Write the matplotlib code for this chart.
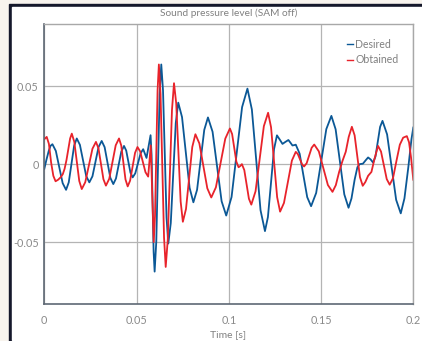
import numpy as np
import matplotlib
matplotlib.use("Agg")
from matplotlib import pyplot as plt
from matplotlib.patches import Rectangle

plt.rcParams['font.family'] = ['Lato', 'DejaVu Sans']

# time in ms, pressure in 1e-3 units
t_desired = [0, 1.2, 2.4, 3.4, 4.4,
             6.25, 8.1, 9.95, 11.8,
             13.25, 14.7, 16.15, 17.6,
             19.3, 21.0, 22.7, 24.4,
             26.1, 27.75, 29.4, 31.1,
             32.7, 34.25, 35.8, 37.4,
             38.85, 40.3, 41.75, 43.2,
             44.4, 45.55, 46.7, 47.9,
             49.3, 50.75, 52.2, 53.6,
             54.5, 55.4, 56.5, 57.6,
             58.15, 58.7, 59.25, 59.8,
             60.7, 61.6, 62.5, 63.4,
             64.35, 65.3, 66.25, 67.2,
             68.55, 69.9, 71.25, 72.6,
             74.65, 76.7, 78.75, 80.8,
             82.8, 84.75, 86.7, 88.7,
             91.2, 93.65, 96.1, 98.6,
             101.5, 104.35, 107.2, 110.1,
             112.5, 114.85, 117.2, 119.6,
             121.2, 122.85, 124.5, 126.1,
             127.6, 129.1, 130.7, 132.3, 133.4, 134.5, 135.4, 136.3,
             138.4, 140.45, 142.5, 144.6,
             147.35, 150.1, 152.85, 155.6,
             157.9, 160.25, 162.6, 164.9,
             166.5, 168.2, 169.7, 170.9, 172.7, 174.2, 175.5, 176.9, 178.2,
             179.5, 180.75, 182.0, 183.3,
             185.8, 188.25, 190.7, 193.2,
             195.2, 197.3, 199.0, 200]
desired = [-3, 3, 8.5, 11.8, 12.8,
           8.5, -1.9, -12.2, -16.5,
           -11.7, 0, 11.7, 16.5,
           12.4, 2.4, -7.6, -11.7,
           -7.8, 1.6, 11.0, 14.9,
           10.9, 1.0, -8.8, -12.8,
           -9.2, -0.5, 8.1, 11.7,
           8.7, 1.6, -5.5, -8.5,
           -5.9, 0.5, 7.0, 9.6,
           6.8, 4.0, 11.3, 18.6,
           5.8, -25.2, -56.2, -69,
           -49.6, -2.5, 44.6, 64,
           47.2, 6.5, -34.2, -51,
           -37.8, -5.8, 26.3, 39.5,
           30.2, 7.5, -15.2, -24.5,
           -16.5, 2.8, 22.0, 30,
           20.8, -1.5, -23.8, -33,
           -21.1, 7.8, 36.6, 48.5,
           35.1, 2.8, -29.6, -43,
           -34, -12.3, 9.5, 18.5,
           15.8, 13, 14.3, 15.5, 13.8, 12, 12.2, 12.5,
           6.7, -7.3, -21.2, -27,
           -18.5, 2, 22.5, 31,
           22.4, 1.5, -19.4, -28,
           -22, -10, -2, 0, 0.3, 2.5, 4.3, 3, 1,
           4.9, 14.4, 23.9, 27.8,
           19.1, -1.9, -22.9, -31.6,
           -22, -2, 16, 23.5]

t_obtained = [0, 1.3, 2.5, 3.7, 4.9, 6.1,
              7.5, 8.8, 10.0, 11.0, 12.0, 13.0, 14.0, 14.9,
              16.25, 17.6, 18.95, 20.3,
              22.2, 24.15, 26.1, 28.0,
              29.35, 30.7, 32.05, 33.4,
              35.2, 36.95, 38.7, 40.5,
              41.7, 42.85, 44.0, 45.2,
              46.5, 47.85, 49.2, 50.5,
              51.95, 53.4, 54.85, 56.3,
              57.0, 57.7, 58.5, 59.3,
              60.0, 60.7, 61.4, 62.1,
              63.0, 63.95, 64.9, 65.8,
              66.9, 68.05, 69.2, 70.3,
              71.5, 72.7, 73.9, 75.1,
              76.8, 78.5, 80.2, 81.9,
              84.05, 86.2, 88.35, 90.5,
              93.0, 95.55, 98.1, 100.6,
              101.8, 102.95, 104.1, 105.3,
              106.2, 107.1,
              108.4, 109.65, 110.9, 112.2,
              114.5, 116.75, 119.0, 121.3,
              122.9, 124.55, 126.2, 127.8,
              129.9, 132.05, 134.2, 136.3,
              137.4, 138.55, 139.7, 140.8,
              142.2, 143.55, 144.9, 146.3,
              148.8, 151.25, 153.7, 156.2,
              158.0, 159.8, 161.6, 163.4, 165.0, 166.7,
              168.2, 169.65, 171.1, 172.6,
              174.0, 175.5, 177.3, 179.1, 180.9,
              182.5, 184.05, 185.6, 187.2,
              189.0, 190.85, 192.7, 194.5, 196.5,
              197.7, 198.8, 200]
obtained = [16, 17.5, 13, 1, -7.5, -11,
            -10, -8.5, -6.5, -3, 2.5, 9.5, 16.5, 19.6,
            14.4, 1.8, -10.8, -16,
            -11.6, -0.9, 9.9, 14.3,
            10.2, 0.3, -9.7, -13.8,
            -9.4, 1.4, 12.1, 16.5,
            12, 1.1, -9.8, -14.3,
            -10.6, -1.7, 7.3, 11,
            8.2, 1.5, -5.2, -8,
            2, 12, -19, -50,
            -33.4, 7, 47.4, 64,
            45, -1, -47, -66,
            -48.8, -7, 34.8, 52,
            39, 7.5, -24, -37,
            -28.8, -8.9, 11, 19.2,
            13.3, -1.1, -15.5, -21.4,
            -14.9, 0.8, 16.4, 22.9,
            19.3, 10.5, 1.6, -2,
            -1.2, 0,
            -3.8, -13, -22.2, -26,
            -17.4, 3.5, 24.4, 33,
            23.7, 1.3, -21.2, -30.5,
            -24.9, -11.3, 2.3, 7.9,
            6.5, 3.2, -0.1, -1.5,
            0.6, 5.6, 10.5, 12.6,
            8.2, -2.6, -13.4, -17.8,
            -13.5, -5, 2, 8, 17.5, 24,
            18.5, 5, -8.4, -13.9,
            -11.5, -7.5, -5, 4, 11.7,
            8.1, -0.8, -9.6, -13.2,
            -9, 2, 12.5, 17, 18,
            14, 4, -10]

x_ticks = [0, 0.05, 0.1, 0.15, 0.2]
x_labels = ['0', '0.05', '0.1', '0.15', '0.2']
y_ticks = [-0.05, 0, 0.05]
y_labels = ['-0.05', '0', '0.05']

W, H = 422, 341
fig = plt.figure(figsize=(W / 100, H / 100), dpi=100, facecolor='#f8f4ee')
# dark frame and white card
fig.patches.append(Rectangle((9 / W, 0), 1, 1 - 4 / H, transform=fig.transFigure,
                             color='#15182b', zorder=-2))
fig.patches.append(Rectangle((12 / W, 1 / H), 1, 1 - 8 / H, transform=fig.transFigure,
                             color='white', zorder=-1))

ax = fig.add_axes([44.3 / W, 1 - 304.3 / H, 369 / W, 280.3 / H])
ax.set_facecolor('white')

ax.plot(np.array(t_desired) / 1000, np.array(desired) / 1000, color='#0b5896',
        lw=1.3, solid_joinstyle='round', label='Desired')
ax.plot(np.array(t_obtained) / 1000, np.array(obtained) / 1000, color='#e8232b',
        lw=1.3, solid_joinstyle='round', label='Obtained')

ax.set_xlim(0, 0.2)
ax.set_ylim(-0.09, 0.09)
ax.set_xticks(x_ticks)
ax.set_xticklabels(x_labels)
ax.set_yticks(y_ticks)
ax.set_yticklabels(y_labels)
ax.tick_params(length=0, colors='#8a8a8a', labelsize=7.8)
ax.tick_params(axis='x', pad=8)
ax.tick_params(axis='y', pad=4)
ax.grid(color='#b4b4b4', lw=0.9)
ax.set_axisbelow(True)

for side in ['top', 'right']:
    ax.spines[side].set_color('#a8a8a8')
    ax.spines[side].set_linewidth(1.0)
for side in ['left', 'bottom']:
    ax.spines[side].set_color('#5e6874')
    ax.spines[side].set_linewidth(1.2)

leg = ax.legend(loc='upper right', bbox_to_anchor=(0.96, 0.948), frameon=False,
                fontsize=7.6, handlelength=0.55, handletextpad=0.2,
                labelspacing=0.45, borderpad=0, borderaxespad=0,
                labelcolor='#808080')
for h in leg.legend_handles:
    h.set_linewidth(1.0)

fig.text(228.5 / W, 1 - 13 / H, 'Sound pressure level (SAM off)', ha='center',
         va='center', fontsize=7.3, color='#808080')
fig.text(228.5 / W, 1 - 335 / H, 'Time [s]', ha='center', va='center',
         fontsize=7.5, color='#808080')

fig.savefig('out.png', dpi=100, facecolor=fig.get_facecolor())
